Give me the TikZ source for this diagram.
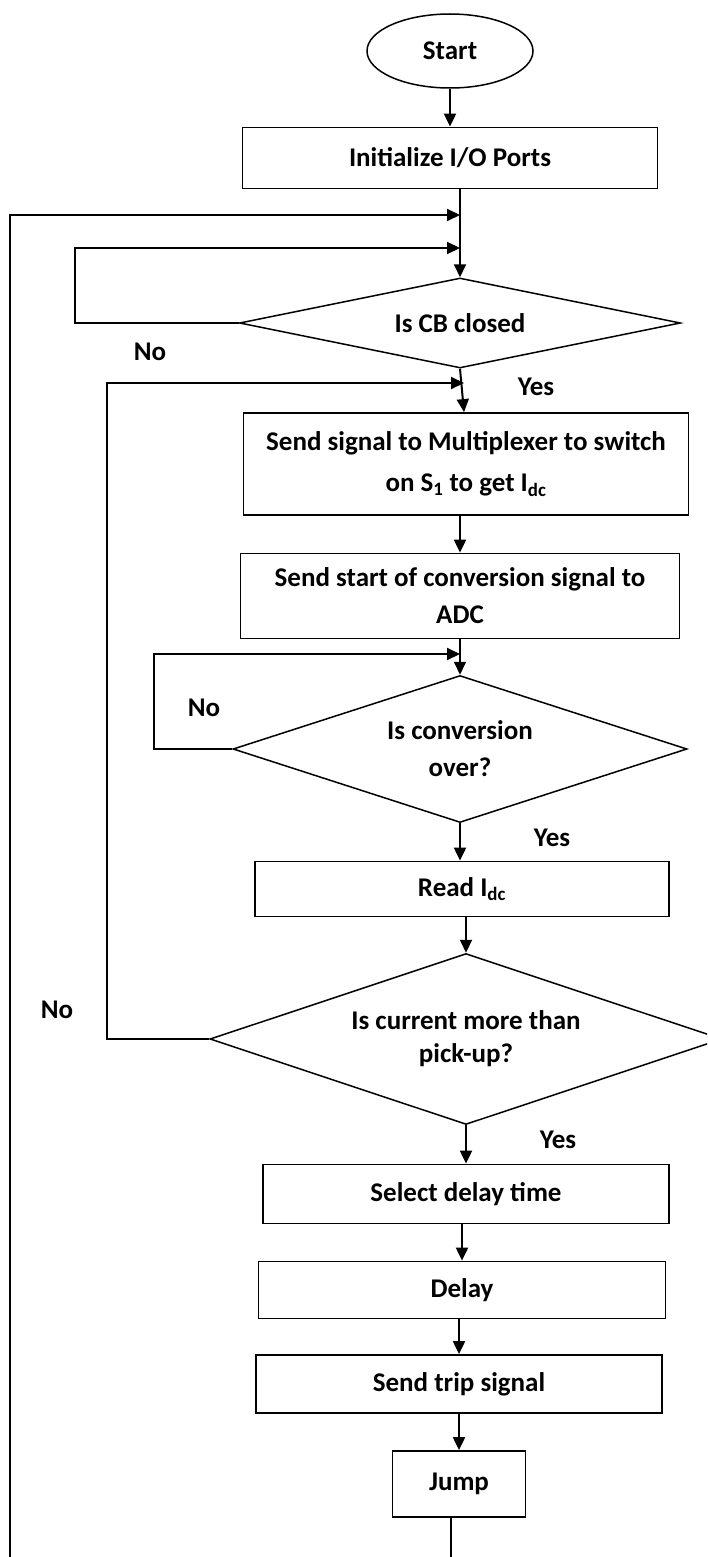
\documentclass[tikz,border=0pt]{standalone}
\usepackage{fontspec}
\setmainfont{Carlito}
\usetikzlibrary{shapes.geometric,arrows.meta}
\begin{document}
\begin{tikzpicture}[x=1pt,y=-1pt,
  txt/.style={font=\fontsize{27}{#1}\selectfont\bfseries},
  txt/.default=32,
  procbox/.style={draw, line width=1.8pt, rectangle, inner sep=0pt, align=center, txt},
  decbox/.style={draw, line width=1.5pt, diamond, inner sep=0pt, align=center, txt},
  termbox/.style={draw, line width=1.5pt, ellipse, inner sep=0pt, txt},
  conn/.style={line width=2pt},
  arr/.style={conn, -{Triangle[length=13pt,width=12pt]}},
  lbl/.style={txt, inner sep=0pt}
]
\useasboundingbox (0,0) rectangle (707,1557);
\fill[white] (0,0) rectangle (707,1557);
\clip (0,0) rectangle (707,1557);

% nodes
\node[termbox, minimum width=166, minimum height=74] (start) at (450,51) {Start};
\node[procbox, minimum width=415, minimum height=61] (init) at (450,158) {Initialize I/O Ports};
\node[decbox, minimum width=441, minimum height=90, aspect=4.9] (d1) at (460,323) {Is CB closed};
\node[procbox, minimum width=445, minimum height=102, txt=41] (mux) at (466,464) {Send signal to Multiplexer to switch\\on S\textsubscript{1} to get I\textsubscript{dc}};
\node[procbox, minimum width=439, minimum height=85, txt=37] (soc) at (460,596) {Send start of conversion signal to\\ADC};
\node[decbox, minimum width=454, minimum height=147, aspect=3.1, txt=37] (d2) at (460,749) {Is conversion\\over?};
\node[procbox, minimum width=414, minimum height=55] (read) at (462,889) {Read I\textsubscript{dc}};
\node[decbox, minimum width=512, minimum height=171, aspect=3.0, txt=33] (d3) at (466,1039) {Is current more than\\pick-up?};
\node[procbox, minimum width=406, minimum height=59] (sel) at (466,1194) {Select delay time};
\node[procbox, minimum width=407, minimum height=57] (delay) at (462,1290) {Delay};
\node[procbox, minimum width=406, minimum height=58] (trip) at (459,1384) {Send trip signal};
\node[procbox, minimum width=133, minimum height=66] (jump) at (459,1484) {Jump};

% labels
\node[lbl] (no1) at (150,352) {No};
\node[lbl] (yes1) at (536,387) {Yes};
\node[lbl] (no2) at (204,708) {No};
\node[lbl] (yes2) at (552,838) {Yes};
\node[lbl] (no3) at (57,1010) {No};
\node[lbl] (yes3) at (558,1140) {Yes};

% junction coordinates
\coordinate (j1) at (460,215);
\coordinate (j2) at (460,248);
\coordinate (j3) at (464,383);
\coordinate (j4) at (460,654);
\coordinate (jb) at (451,1557);
\coordinate (lb) at (10,1557);

% connectors
\draw[arr] (start.south) -- (init.north);
\draw[arr] (init.south -| d1.north) -- (d1.north);
\draw[arr] (lb) -- (10,215) -- (j1);
\draw[arr] (d1.west) -- (75,323) -- (75,248) -- (j2);
\draw[arr] (d1.south) -- (mux.north -| j3);
\draw[arr] (d3.west) -- (107,1039) -- (107,383) -- (j3);
\draw[arr] (mux.south -| soc.north) -- (soc.north);
\draw[arr] (soc.south) -- (d2.north);
\draw[arr] (d2.west) -- (154,749) -- (154,654) -- (j4);
\draw[arr] (d2.south) -- (d2.south |- read.north);
\draw[arr] (read.south -| d3.north) -- (d3.north);
\draw[arr] (d3.south) -- (d3.south |- sel.north);
\draw[arr] (sel.south -| delay.north) -- (delay.north);
\draw[arr] (delay.south -| trip.north) -- (trip.north);
\draw[arr] (trip.south) -- (jump.north);
\draw[conn] (jump.south -| jb) -- (jb);
\end{tikzpicture}
\end{document}
